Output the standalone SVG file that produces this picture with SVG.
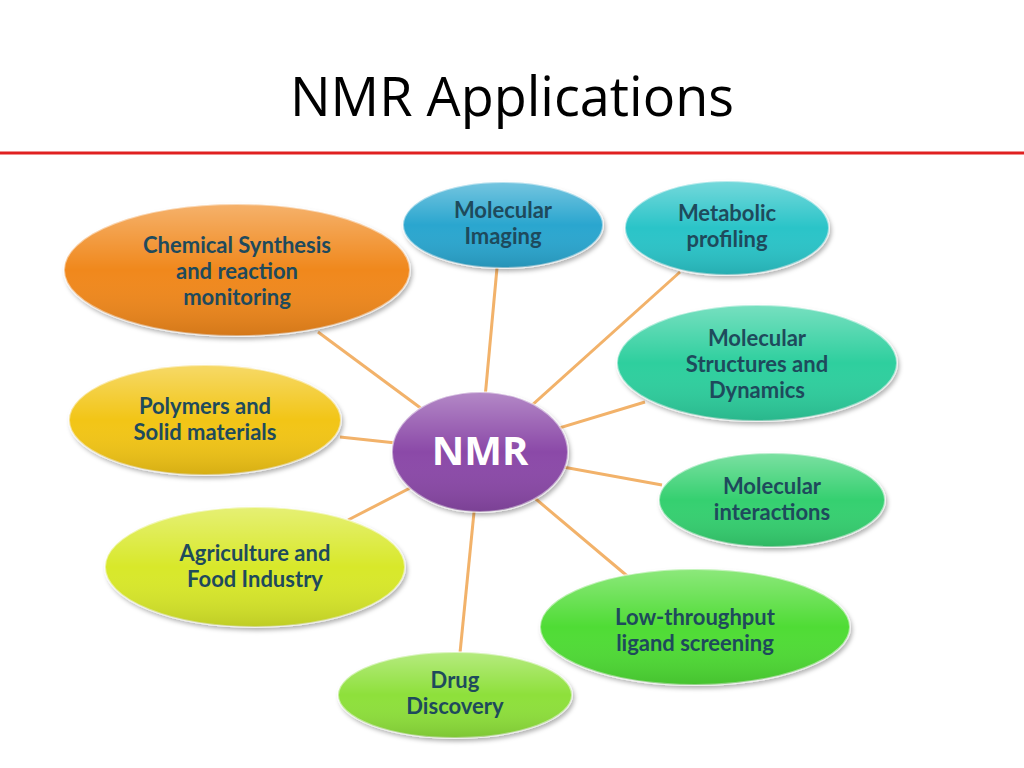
<svg xmlns="http://www.w3.org/2000/svg" width="1024" height="768" viewBox="0 0 1024 768">
<defs>
<linearGradient id="sh" x1="0" y1="0" x2="0" y2="1">
<stop offset="0" stop-color="#fff" stop-opacity="0.35"/>
<stop offset="0.5" stop-color="#fff" stop-opacity="0"/>
<stop offset="1" stop-color="#000" stop-opacity="0.12"/>
</linearGradient>
<filter id="ds" x="-10%" y="-10%" width="120%" height="130%"><feDropShadow dx="2" dy="3" stdDeviation="2" flood-opacity="0.3"/></filter>
</defs>
<style>
.n{stroke:#fff;stroke-opacity:0.5;stroke-width:2;filter:url(#ds)}
.t{font-family:Lato,"Liberation Sans",sans-serif;font-weight:bold;font-size:22px;fill:#1e4a5c;text-anchor:middle}
.c{stroke:#f2b26a;stroke-width:3}
</style>
<rect width="1024" height="768" fill="#fff"/>
<text x="512" y="116" font-family="Open Sans, Liberation Sans, sans-serif" font-size="54" text-anchor="middle" fill="#000">NMR Applications</text>
<line x1="0" y1="153" x2="1024" y2="153" stroke="#e02020" stroke-width="3"/>
<g id="connectors">
<line class="c" x1="480" y1="452" x2="318" y2="332"/>
<line class="c" x1="480" y1="452" x2="497" y2="268"/>
<line class="c" x1="480" y1="452" x2="680" y2="272"/>
<line class="c" x1="480" y1="452" x2="645" y2="402"/>
<line class="c" x1="480" y1="452" x2="340" y2="437"/>
<line class="c" x1="480" y1="452" x2="662" y2="485"/>
<line class="c" x1="480" y1="452" x2="348" y2="520"/>
<line class="c" x1="480" y1="452" x2="632" y2="580"/>
<line class="c" x1="480" y1="452" x2="460" y2="653"/>
</g>
<g id="chem"><ellipse class="n" cx="237" cy="270" rx="173" ry="66" fill="#f0881e"/><ellipse cx="237" cy="270" rx="173" ry="66" fill="url(#sh)"/>
<text class="t" x="237" y="253">Chemical Synthesis</text><text class="t" x="237" y="279">and reaction</text><text class="t" x="237" y="305">monitoring</text></g>
<g id="imaging"><ellipse class="n" cx="503" cy="225" rx="100" ry="43" fill="#2ba6cf"/><ellipse cx="503" cy="225" rx="100" ry="43" fill="url(#sh)"/>
<text class="t" x="503" y="218">Molecular</text><text class="t" x="503" y="244">Imaging</text></g>
<g id="metabolic"><ellipse class="n" cx="727" cy="228" rx="102" ry="47" fill="#2cc4c8"/><ellipse cx="727" cy="228" rx="102" ry="47" fill="url(#sh)"/>
<text class="t" x="727" y="221">Metabolic</text><text class="t" x="727" y="247">profiling</text></g>
<g id="structures"><ellipse class="n" cx="757" cy="363" rx="140" ry="58" fill="#2ecf9e"/><ellipse cx="757" cy="363" rx="140" ry="58" fill="url(#sh)"/>
<text class="t" x="757" y="346">Molecular</text><text class="t" x="757" y="372">Structures and</text><text class="t" x="757" y="398">Dynamics</text></g>
<g id="polymers"><ellipse class="n" cx="205" cy="420" rx="136" ry="55" fill="#f2c518"/><ellipse cx="205" cy="420" rx="136" ry="55" fill="url(#sh)"/>
<text class="t" x="205" y="414">Polymers and</text><text class="t" x="205" y="440">Solid materials</text></g>
<g id="nmr"><ellipse class="n" cx="480" cy="452" rx="88" ry="60" fill="#8b4aa8"/><ellipse cx="480" cy="452" rx="88" ry="60" fill="url(#sh)"/>
<text x="480" y="465" font-family="Open Sans, Liberation Sans, sans-serif" font-weight="bold" font-size="40" fill="#fff" text-anchor="middle">NMR</text></g>
<g id="interactions"><ellipse class="n" cx="772" cy="500" rx="113" ry="47" fill="#35d070"/><ellipse cx="772" cy="500" rx="113" ry="47" fill="url(#sh)"/>
<text class="t" x="772" y="494">Molecular</text><text class="t" x="772" y="520">interactions</text></g>
<g id="agri"><ellipse class="n" cx="255" cy="567" rx="150" ry="60" fill="#d8e82a"/><ellipse cx="255" cy="567" rx="150" ry="60" fill="url(#sh)"/>
<text class="t" x="255" y="561">Agriculture and</text><text class="t" x="255" y="587">Food Industry</text></g>
<g id="lowthroughput"><ellipse class="n" cx="695" cy="627" rx="155" ry="58" fill="#4fdc34"/><ellipse cx="695" cy="627" rx="155" ry="58" fill="url(#sh)"/>
<text class="t" x="695" y="625">Low-throughput</text><text class="t" x="695" y="651">ligand screening</text></g>
<g id="drug"><ellipse class="n" cx="455" cy="695" rx="117" ry="43" fill="#8ee03a"/><ellipse cx="455" cy="695" rx="117" ry="43" fill="url(#sh)"/>
<text class="t" x="455" y="688">Drug</text><text class="t" x="455" y="714">Discovery</text></g>
</svg>
